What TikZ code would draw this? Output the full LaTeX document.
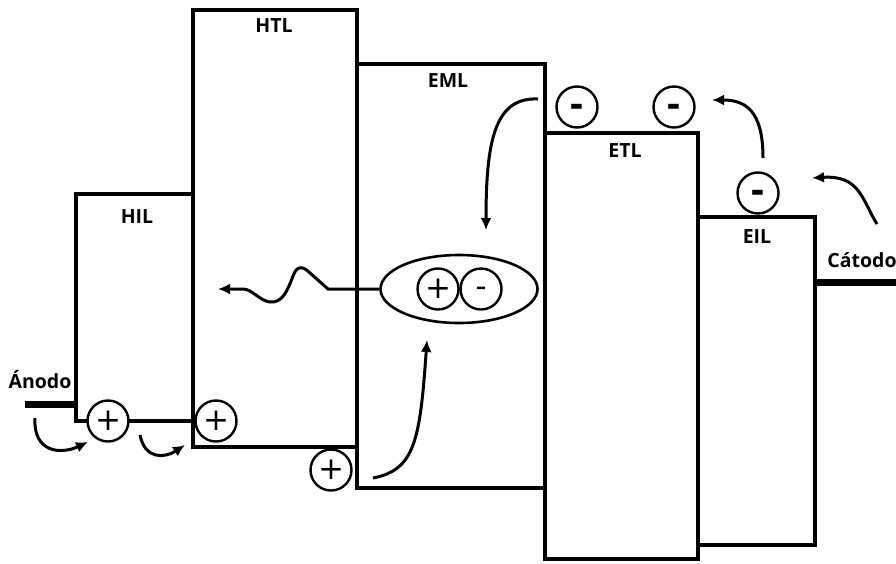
\documentclass[tikz,border=0pt]{standalone}
\usepackage[no-math]{fontspec}
\setmainfont{Open Sans}
\newfontfamily\signfont{DejaVu Sans}
\usetikzlibrary{arrows.meta,shapes.geometric}
\tikzset{
  layer/.style={draw, line width=3.4pt, line join=miter},
  lbl/.style={anchor=base, inner sep=0pt, font=\fontsize{19.5}{21}\selectfont\bfseries},
  pluscirc/.style={circle, draw, fill=white, line width=2.4pt, minimum size=41pt, inner sep=0pt,
    font=\signfont\fontsize{31}{31}\selectfont},
  minuscirc/.style={circle, draw, fill=white, line width=2.4pt, minimum size=41pt, inner sep=0pt,
    font=\fontsize{40}{40}\selectfont\bfseries, text height=20pt, text depth=0pt},
  minuscircthin/.style={minuscirc, font=\fontsize{34}{34}\selectfont, text height=17pt},
  electrode/.style={draw, line width=7pt},
  flow/.style={draw, line width=3pt, -{Latex[length=12pt,width=11pt]}},
}
\begin{document}
\begin{tikzpicture}[x=1pt,y=-1pt]
\useasboundingbox (0,0) rectangle (896,563);
% layers
\path[layer] (76,194) rectangle (193,421);
\path[layer] (193,10) rectangle (357,447);
\path[layer] (357,64) rectangle (545,488);
\path[layer] (545,133) rectangle (698,559);
\path[layer] (698,217) rectangle (815,545);
% electrodes
\path[electrode] (25,404) -- (76,404);
\path[electrode] (815,282) -- (896,282);
% labels
\node[lbl] (hil) at (137,223) {HIL};
\node[lbl] (htl) at (274,32) {HTL};
\node[lbl] (eml) at (448,87) {EML};
\node[lbl] (etl) at (625,157) {ETL};
\node[lbl] (eil) at (757,243) {EIL};
\node[lbl] (anodo) at (40,388) {Ánodo};
\node[lbl] (catodo) at (862,267) {Cátodo};
% charges
\node[pluscirc] (h1) at (108,421) {+};
\node[pluscirc] (h2) at (216,421) {+};
\node[pluscirc] (h3) at (331,470) {+};
\node[minuscirc] (e1) at (577,107) {-};
\node[minuscirc] (e2) at (674,107) {-};
\node[minuscirc] (e3) at (758,193) {-};
% exciton
\node[ellipse, draw, line width=2.6pt, minimum width=157pt, minimum height=68pt] (exc) at (459,289) {};
\node[pluscirc] (xp) at (438,289) {+};
\node[minuscircthin] (xm) at (481,289) {-};
% arrows
\coordinate (a1s) at (35,418);
\coordinate (a1e) at (88,442);
\coordinate (a2s) at (140,435);
\coordinate (a2e) at (185,445);
\coordinate (w1) at (328,289);
\coordinate (w2) at (218,289);
\coordinate (u1) at (373,478);
\coordinate (u2) at (427,340);
\coordinate (d1) at (538,99);
\coordinate (d2) at (486,230);
\coordinate (r1) at (763,158);
\coordinate (r2) at (712,100);
\coordinate (c1) at (877,224);
\coordinate (c2) at (812,178);
\path[flow] (a1s) .. controls (33,452) and (60,455) .. (a1e);
\path[flow] (a2s) .. controls (145,460) and (165,458) .. (a2e);
\path[flow] (exc.west) -- (w1) -- (310,273) .. controls (303,266) and (297,265) .. (293,276)
   .. controls (287,292) and (282,303) .. (270,302) .. controls (260,301) and (252,289) .. (243,289) -- (w2);
\path[flow] (u1) .. controls (415,470) and (420,440) .. (u2);
\path[flow] (d1) .. controls (495,97) and (486,140) .. (d2);
\path[flow] (r1) .. controls (763,110) and (745,100) .. (r2);
\path[flow] (c1) .. controls (862,200) and (860,175) .. (c2);
\end{tikzpicture}
\end{document}
